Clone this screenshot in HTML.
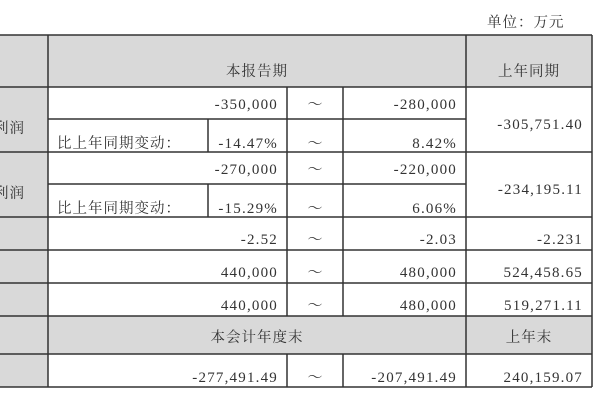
<!DOCTYPE html>
<html><head><meta charset="utf-8"><style>
html,body{margin:0;padding:0;background:#fff;width:600px;height:400px;overflow:hidden}
svg text{font-family:"Liberation Serif","Noto Serif CJK SC",serif;font-size:15px;fill:#333}
svg text.n{letter-spacing:1.2px}
svg text.c{font-family:"Noto Serif CJK SC",serif;font-size:14.5px;letter-spacing:1px}
</style></head><body>
<svg width="600" height="400" xmlns="http://www.w3.org/2000/svg">
<rect x="0" y="35" width="48" height="352" fill="#d9d9d9"/>
<rect x="48" y="35" width="544" height="52" fill="#d9d9d9"/>
<rect x="48" y="316" width="544" height="38" fill="#d9d9d9"/>
<g stroke="#333" stroke-width="1.5" fill="none">
<line x1="0" y1="35" x2="592" y2="35"/>
<line x1="0" y1="87" x2="592" y2="87"/>
<line x1="48" y1="119" x2="466" y2="119"/>
<line x1="0" y1="152" x2="592" y2="152"/>
<line x1="48" y1="184" x2="466" y2="184"/>
<line x1="0" y1="217" x2="592" y2="217"/>
<line x1="0" y1="250" x2="592" y2="250"/>
<line x1="0" y1="283" x2="592" y2="283"/>
<line x1="0" y1="316" x2="592" y2="316"/>
<line x1="0" y1="354" x2="592" y2="354"/>
<line x1="0" y1="387" x2="592" y2="387"/>
<line x1="48" y1="35" x2="48" y2="387"/>
<line x1="592" y1="35" x2="592" y2="387"/>
<line x1="466" y1="35" x2="466" y2="387"/>
<line x1="287" y1="87" x2="287" y2="316"/>
<line x1="343" y1="87" x2="343" y2="316"/>
<line x1="287" y1="354" x2="287" y2="387"/>
<line x1="343" y1="354" x2="343" y2="387"/>
<line x1="208" y1="119" x2="208" y2="152"/>
<line x1="208" y1="184" x2="208" y2="217"/>
</g>
<text class="c" x="487" y="27">单位：万元</text>
<text class="c" x="257" y="76" text-anchor="middle">本报告期</text>
<text class="c" x="529" y="76" text-anchor="middle">上年同期</text>
<text class="c" x="-6" y="133">利润</text>
<text class="c" x="-6" y="198">利润</text>
<text class="c" x="57" y="148">比上年同期变动：</text>
<text class="c" x="57" y="213">比上年同期变动：</text>
<g text-anchor="end">
<text class="n" x="278" y="109">-350,000</text>
<text class="n" x="278" y="148">-14.47%</text>
<text class="n" x="278" y="174">-270,000</text>
<text class="n" x="278" y="213">-15.29%</text>
<text class="n" x="278" y="244">-2.52</text>
<text class="n" x="278" y="277">440,000</text>
<text class="n" x="278" y="310">440,000</text>
<text class="n" x="278" y="382">-277,491.49</text>
<text class="n" x="457" y="109">-280,000</text>
<text class="n" x="457" y="148">8.42%</text>
<text class="n" x="457" y="174">-220,000</text>
<text class="n" x="457" y="213">6.06%</text>
<text class="n" x="457" y="244">-2.03</text>
<text class="n" x="457" y="277">480,000</text>
<text class="n" x="457" y="310">480,000</text>
<text class="n" x="457" y="382">-207,491.49</text>
<text class="n" x="583" y="129">-305,751.40</text>
<text class="n" x="583" y="194">-234,195.11</text>
<text class="n" x="583" y="244">-2.231</text>
<text class="n" x="583" y="277">524,458.65</text>
<text class="n" x="583" y="310">519,271.11</text>
<text class="n" x="583" y="382">240,159.07</text>
</g>
<g text-anchor="middle">
<text x="315" y="109">～</text><text x="315" y="148">～</text>
<text x="315" y="174">～</text><text x="315" y="213">～</text>
<text x="315" y="244">～</text><text x="315" y="277">～</text>
<text x="315" y="310">～</text><text x="315" y="382">～</text>
<text class="c" x="257" y="342">本会计年度末</text>
<text class="c" x="529" y="342">上年末</text>
</g>
</svg>
</body></html>
